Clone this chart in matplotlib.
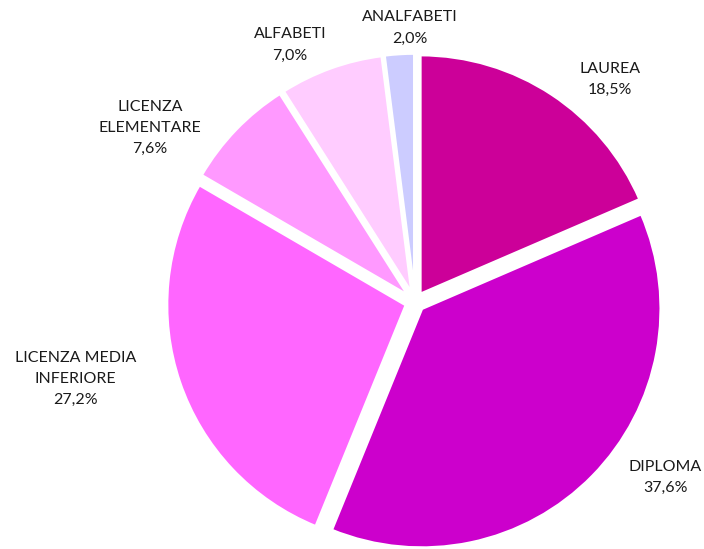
import matplotlib
matplotlib.use('Agg')
import matplotlib.pyplot as plt

# titolo di studio - quote percentuali
categorie = ['LAUREA', 'DIPLOMA', 'LICENZA MEDIA\nINFERIORE', 'LICENZA\nELEMENTARE',
             'ALFABETI', 'ANALFABETI']
valori = [18.5, 37.6, 27.2, 7.6, 7.0, 2.0]
colori = ['#CC0099', '#CC00CC', '#FF66FF', '#FF99FF', '#FFCCFF', '#CCCCFF']

# label positions in axes fraction (Excel places them by hand)
pos_etichette = [(0.866, 0.855), (0.945, 0.13), (0.107, 0.31),
                 (0.213, 0.767), (0.412, 0.918), (0.582, 0.949)]

plt.rcParams['font.family'] = ['Lato', 'DejaVu Sans']

fig = plt.figure(figsize=(7.04, 5.49), dpi=100)
ax = fig.add_axes([0, 0, 1, 1])

wedges, _ = ax.pie(valori, colors=colori, startangle=90, counterclock=False,
                   explode=[0.04] * len(valori),
                   wedgeprops=dict(edgecolor='white', linewidth=2))

# keep radius ~239 px and centre at (415, 302) px
r = 239.0
ax.set_xlim(-415 / r, (704 - 415) / r)
ax.set_ylim(-(549 - 302) / r, 302 / r)
ax.set_aspect('auto')
ax.axis('off')

for nome, v, (x, y) in zip(categorie, valori, pos_etichette):
    testo = nome + '\n' + ('%.1f%%' % v).replace('.', ',')
    ax.text(x, y, testo, transform=ax.transAxes, ha='center', va='center',
            fontsize=11.5, color='#1a1a1a', linespacing=1.65)

fig.savefig('out.png', dpi=100)
